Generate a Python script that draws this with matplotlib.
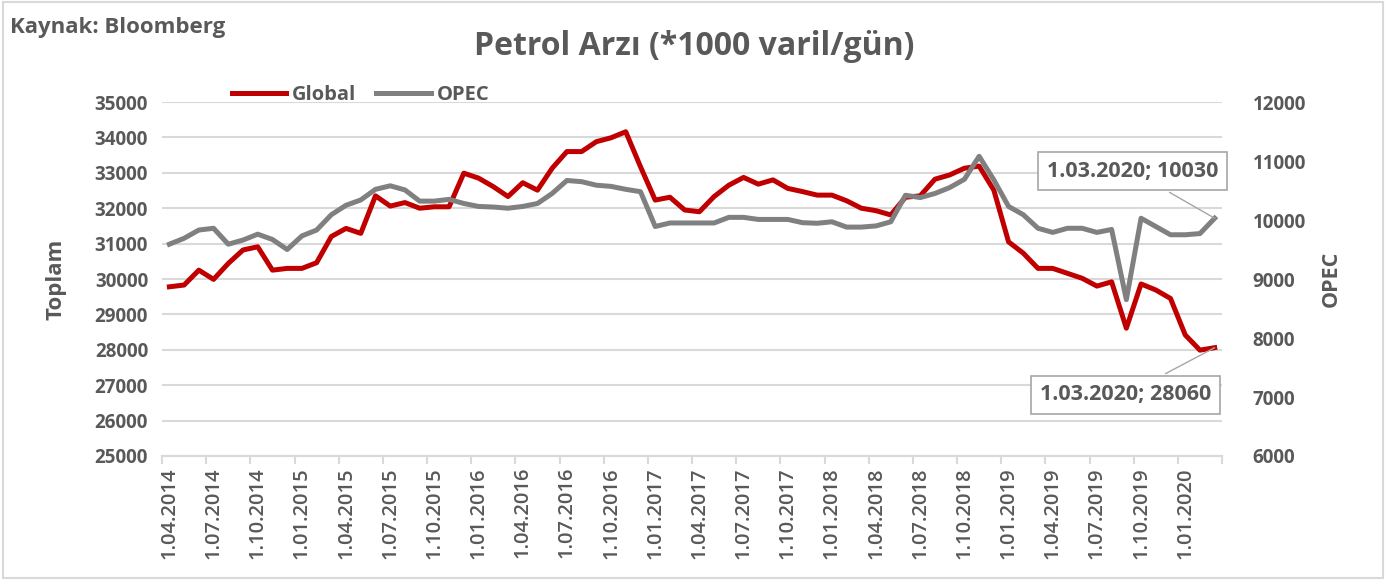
import pandas as pd
import matplotlib.pyplot as plt
from matplotlib.patches import Rectangle

plt.rcParams['font.family'] = ['Open Sans', 'DejaVu Sans']

# Monthly data, 1.04.2014 - 1.03.2020
months = pd.date_range("2014-04-01", periods=72, freq="MS")
global_supply = [
    29780, 29830, 30250, 29990, 30440, 30820, 30910, 30250, 30300, 30300,
    30460, 31200, 31430, 31290, 32350, 32060, 32160, 32000, 32040, 32040,
    32990, 32850, 32610, 32330, 32720, 32510, 33130, 33600, 33600, 33880,
    33990, 34160, 33170, 32230, 32310, 31950, 31900, 32330, 32650, 32870,
    32680, 32800, 32560, 32470, 32370, 32370, 32210, 32000, 31930, 31810,
    32310, 32350, 32820, 32940, 33130, 33190, 32510, 31050, 30730, 30300,
    30300, 30160, 30020, 29800, 29920, 28610, 29860, 29690, 29450, 28420,
    27990, 28060,
]
opec_supply = [
    9590, 9690, 9830, 9860, 9590, 9660, 9760, 9670, 9500, 9730,
    9830, 10090, 10250, 10340, 10520, 10580, 10510, 10320, 10320, 10350,
    10280, 10230, 10220, 10200, 10230, 10280, 10450, 10670, 10650, 10590,
    10570, 10520, 10480, 9890, 9950, 9950, 9950, 9950, 10045, 10045,
    10010, 10010, 10010, 9955, 9945, 9970, 9880, 9880, 9900, 9970,
    10420, 10380, 10450, 10550, 10690, 11080, 10680, 10230, 10090, 9860,
    9790, 9860, 9860, 9790, 9840, 8650, 10030, 9890, 9750, 9750,
    9770, 10030,
]
month_labels = [f"{d.day}.{d.month:02d}.{d.year}" for d in months]

TEXT = "#595959"
RED = "#C00000"
GREY = "#808080"

fig = plt.figure(figsize=(13.86, 5.80), dpi=100)
fig.patches.append(Rectangle((0.002, 0.003), 0.996, 0.994, transform=fig.transFigure,
                             fill=False, edgecolor="#d9d9d9", linewidth=1.5))
ax = fig.add_axes([0.1169, 0.2138, 0.7648, 0.6103])
ax2 = ax.twinx()

x = list(range(len(months)))
l1, = ax.plot(x, global_supply, color=RED, linewidth=3.6, solid_joinstyle="round",
              label="Global")
l2, = ax2.plot(x, opec_supply, color=GREY, linewidth=3.6, solid_joinstyle="round",
               label="OPEC")

# Axes ranges
ax.set_xlim(-0.5, len(months) - 0.5)
ax.set_ylim(25000, 35000)
ax.set_yticks(range(25000, 35001, 1000))
ax2.set_ylim(6000, 12000)
ax2.set_yticks(range(6000, 12001, 1000))

# Category labels every 3 months, tick marks between categories
ax.set_xticks(x[::3])
ax.set_xticklabels(month_labels[::3], rotation=90)
ax.set_xticks([i - 0.5 for i in range(0, len(months) + 1, 3)], minor=True)
ax.tick_params(axis="x", which="major", length=0, pad=8)
ax.tick_params(axis="x", which="minor", length=6, color="#d9d9d9", width=1.5)

ax.grid(axis="y", color="#d9d9d9", linewidth=1.5)
ax.set_axisbelow(True)
for a in (ax, ax2):
    for side in ("top", "left", "right"):
        a.spines[side].set_visible(False)
    a.spines["bottom"].set_color("#d9d9d9")
    a.spines["bottom"].set_linewidth(1.5)
ax.tick_params(axis="y", length=0, pad=10)
ax2.tick_params(axis="y", length=0, pad=22)

for lab in ax.get_yticklabels() + ax2.get_yticklabels():
    lab.set_fontsize(13.5)
    lab.set_fontweight("bold")
    lab.set_color(TEXT)
for lab in ax.get_xticklabels():
    lab.set_fontsize(14.5)
    lab.set_fontweight("semibold")
    lab.set_color(TEXT)

ax.set_ylabel("Toplam", fontsize=16, fontweight="bold", color=TEXT, labelpad=20)
ax2.set_ylabel("OPEC", fontsize=15.5, fontweight="bold", color=TEXT, labelpad=11)

fig.text(0.501, 0.919, "Petrol Arzı (*1000 varil/gün)", ha="center", va="center",
         fontsize=23, fontweight="bold", color=TEXT)
fig.text(0.007, 0.952, "Kaynak: Bloomberg", ha="left", va="center",
         fontsize=16, fontweight="bold", color=TEXT)

leg = ax.legend(handles=[l1, l2], loc="lower left", bbox_to_anchor=(0.058, 0.97),
                ncol=2, frameon=False, fontsize=14.5, handlelength=2.7,
                handletextpad=0.3, columnspacing=1.0, borderaxespad=0)
for t in leg.get_texts():
    t.set_fontweight("bold")
    t.set_color(TEXT)

# Data labels on the last points
box = dict(boxstyle="square,pad=0.4", fc="white", ec="#a6a6a6", lw=1.2)
last = len(months) - 1
ax2.annotate(f"{month_labels[last]}; {opec_supply[last]}", xy=(x[last], opec_supply[last]),
             xytext=(-82, 47), textcoords="offset pixels", ha="center", va="center",
             fontsize=15.5, fontweight="bold", color=TEXT, bbox=box,
             arrowprops=dict(arrowstyle="-", color="#a6a6a6", lw=1, shrinkB=0))
ax.annotate(f"{month_labels[last]}; {global_supply[last]}", xy=(x[last], global_supply[last]),
            xytext=(-89, -47), textcoords="offset pixels", ha="center", va="center",
            fontsize=15.5, fontweight="bold", color=TEXT, bbox=box,
            arrowprops=dict(arrowstyle="-", color="#a6a6a6", lw=1, shrinkB=0))

fig.savefig("out.png", dpi=100)
